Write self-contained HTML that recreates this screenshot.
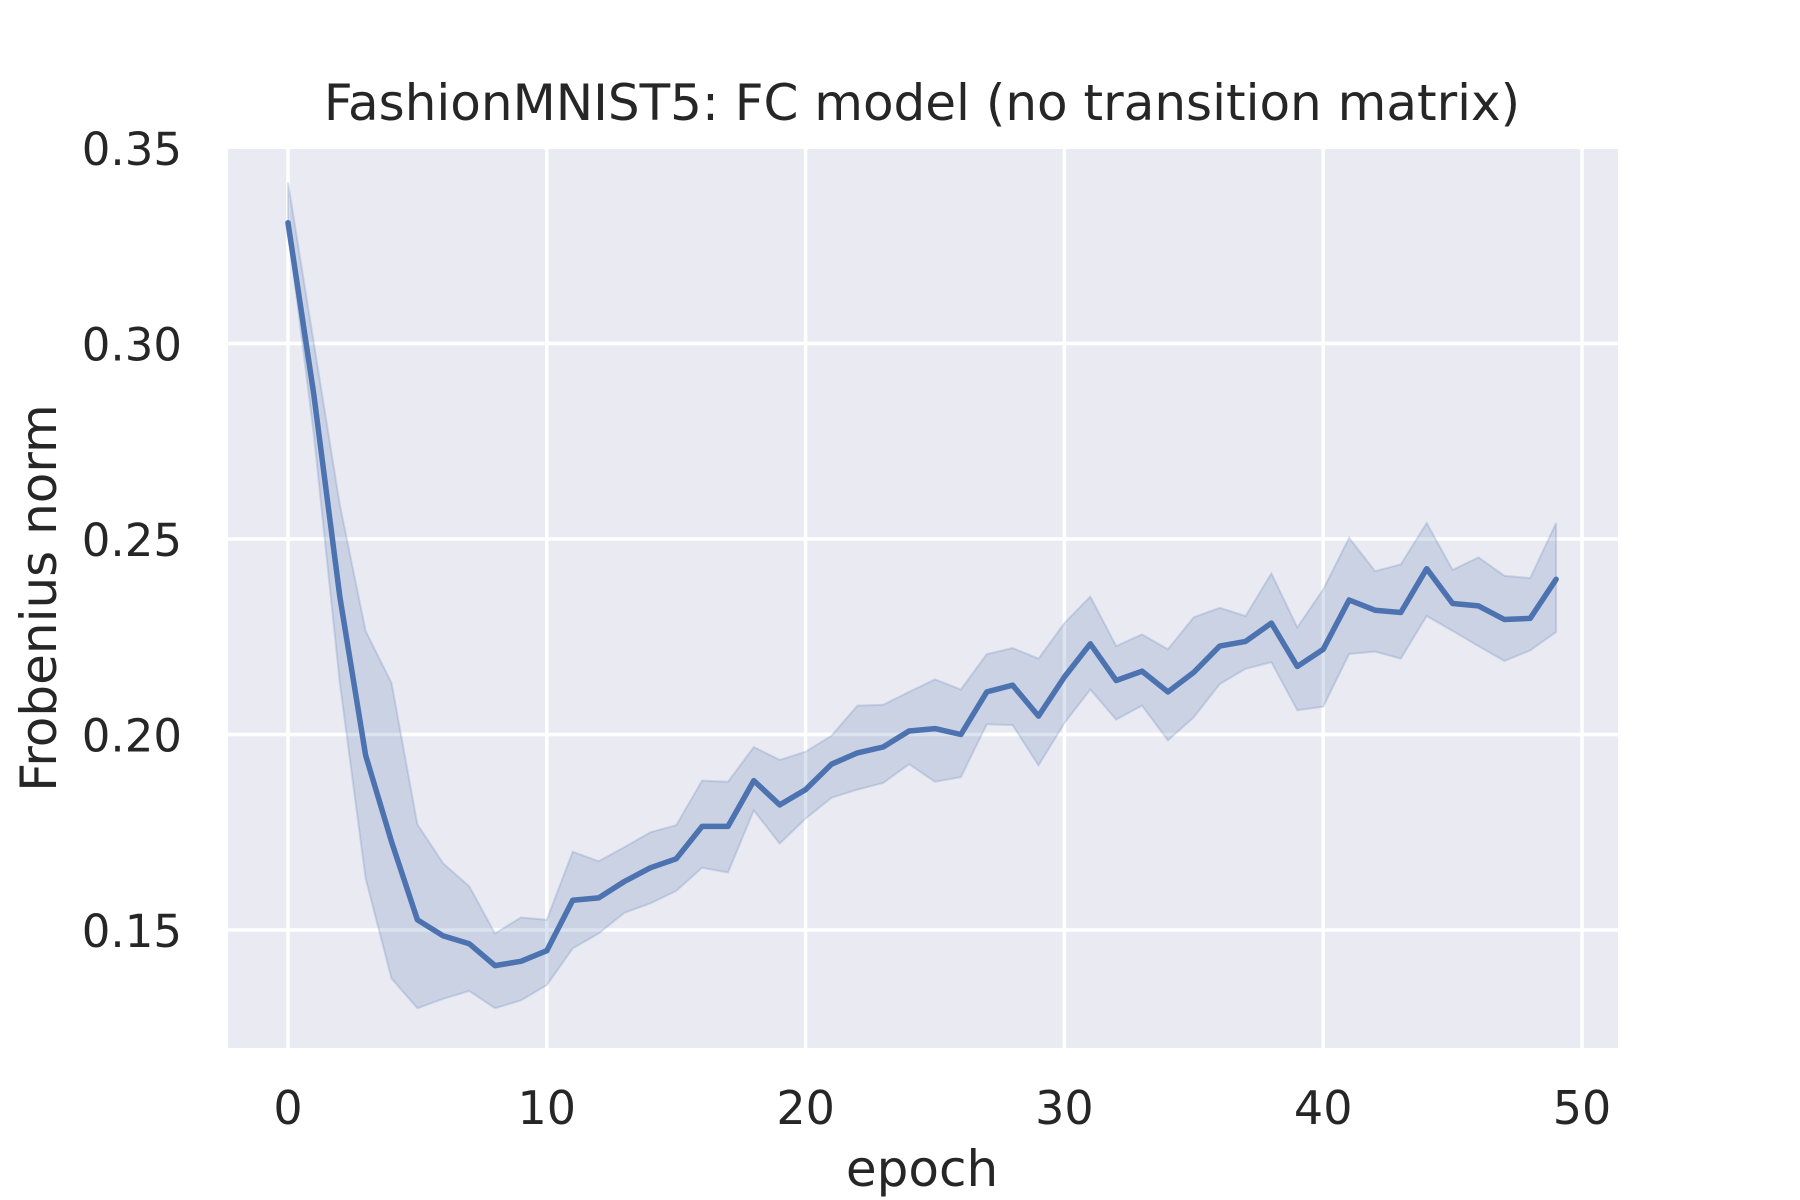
<!DOCTYPE html>
<html><head><meta charset="utf-8"><style>
html,body{margin:0;padding:0;background:#fff;}
svg{display:block;font-family:"DejaVu Sans","Liberation Sans",sans-serif;}
</style></head><body>
<svg id="chart" width="1800" height="1200" viewBox="0 0 1800 1200">
<rect x="228" y="149" width="1390" height="899" fill="#EAEAF2"/>
<g id="grid"></g>
<g id="marks"></g>
<g id="ticks"></g>
<text x="922" y="120" text-anchor="middle" font-size="50" fill="#262626">FashionMNIST5: FC model (no transition matrix)</text>
<text x="922" y="1186" text-anchor="middle" font-size="50" fill="#262626">epoch</text>
<text transform="translate(56,598) rotate(-90)" text-anchor="middle" font-size="50" fill="#262626">Frobenius norm</text>
</svg>
<script>
const epochs = Array.from({length:50},(_,i)=>i);
const meanValues = [0.3309,0.2868,0.2353,0.1947,0.1726,0.1526,0.1485,0.1465,0.1409,0.142,0.1447,0.1576,0.1582,0.1624,0.1659,0.1682,0.1765,0.1765,0.1882,0.182,0.1859,0.1924,0.1953,0.1968,0.2009,0.2015,0.2,0.2109,0.2126,0.2047,0.2147,0.2232,0.2138,0.2162,0.2109,0.2159,0.2226,0.2238,0.2285,0.2174,0.2218,0.2344,0.2318,0.2312,0.2424,0.2335,0.2329,0.2294,0.2297,0.2397];
const upperValues = [0.3412,0.3,0.2588,0.2265,0.2132,0.177,0.167,0.1612,0.1491,0.1532,0.1526,0.17,0.1676,0.1712,0.175,0.1768,0.1882,0.1879,0.1968,0.1935,0.1956,0.1997,0.2074,0.2076,0.2109,0.2141,0.2115,0.2206,0.2221,0.2194,0.2285,0.2353,0.2226,0.2256,0.2218,0.23,0.2324,0.2303,0.2412,0.2274,0.2371,0.2503,0.2418,0.2435,0.2541,0.2421,0.2453,0.2406,0.24,0.2541];
const lowerValues = [0.3294,0.2765,0.2132,0.1632,0.1376,0.13,0.1324,0.1344,0.13,0.132,0.1359,0.1453,0.1491,0.1544,0.1568,0.16,0.1659,0.1647,0.1806,0.1721,0.1785,0.1838,0.1859,0.1876,0.1924,0.1879,0.1891,0.2026,0.2024,0.1921,0.2029,0.2115,0.2038,0.2074,0.1985,0.2044,0.2129,0.2168,0.2185,0.2062,0.2071,0.2206,0.2212,0.2194,0.2303,0.2265,0.2226,0.2188,0.2215,0.2262];
const xTicks = [0,10,20,30,40,50];
const yTicks = [0.15,0.20,0.25,0.30,0.35];
const yTickLabels = ["0.15","0.20","0.25","0.30","0.35"];

const NS="http://www.w3.org/2000/svg";
const xs = v => 288 + (v/10)*258.8;
const ys = v => 930 - (v-0.15)/0.05*195.5;
const grid=document.getElementById('grid'), marks=document.getElementById('marks'), ticks=document.getElementById('ticks');
function mk(tag, attrs, parent){const e=document.createElementNS(NS,tag);for(const k in attrs)e.setAttribute(k,attrs[k]);parent.appendChild(e);return e;}
xTicks.forEach(t=>{
  const l=mk('line',{x1:xs(t),x2:xs(t),y1:149,y2:1048,stroke:'#fff','stroke-width':3.5},grid);
  
  
  const tx=mk('text',{x:xs(t),y:1124,'text-anchor':'middle','font-size':46,fill:'#262626'},ticks);
  tx.textContent=String(t);
  
  
});
yTicks.forEach((t,i)=>{
  const y=ys(t);
  if(y>=149){
    const l=mk('line',{x1:228,x2:1618,y1:y,y2:y,stroke:'#fff','stroke-width':3.5},grid);
    
    
  }
  const tx=mk('text',{x:182,y:y+17,'text-anchor':'end','font-size':45,fill:'#262626'},ticks);
  tx.textContent=yTickLabels[i];
  
  
});
let bd='';
epochs.forEach((e,i)=>{bd+=(i?'L':'M')+xs(e).toFixed(1)+','+ys(upperValues[i]).toFixed(1);});
for(let i=epochs.length-1;i>=0;i--){bd+='L'+xs(epochs[i]).toFixed(1)+','+ys(lowerValues[i]).toFixed(1);}
bd+='Z';
const band=mk('path',{d:bd,fill:'#4C72B0','fill-opacity':0.2,stroke:'#4C72B0','stroke-opacity':0.2,'stroke-width':2},marks);


let ld='';
epochs.forEach((e,i)=>{ld+=(i?'L':'M')+xs(e).toFixed(1)+','+ys(meanValues[i]).toFixed(1);});
const line=mk('path',{d:ld,fill:'none',stroke:'#4C72B0','stroke-width':5.5,'stroke-linejoin':'round','stroke-linecap':'round'},marks);


</script>
</body></html>
